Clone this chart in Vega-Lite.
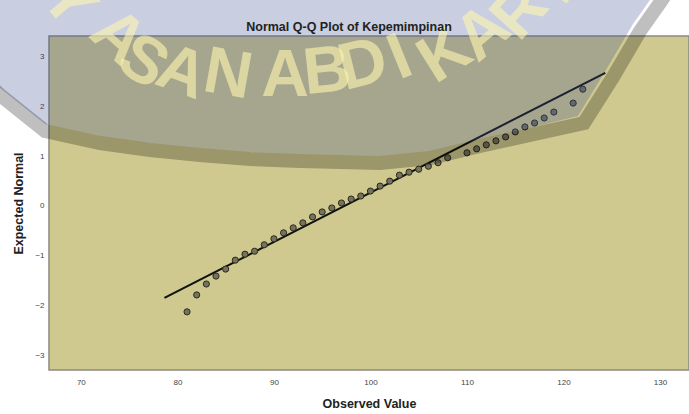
{
  "$schema": "https://vega.github.io/schema/vega-lite/v6.json",
  "autosize": "none",
  "width": 640,
  "height": 334,
  "padding": {"left": 49, "top": 36, "right": 0, "bottom": 44},
  "background": "#ffffff",
  "title": {"text": "Normal Q-Q Plot of Kepemimpinan", "font": "Liberation Sans", "fontSize": 12.5, "fontWeight": "bold", "color": "#222222", "anchor": "middle", "frame": "group", "dx": -20, "offset": -92},
  "config": {
    "view": {"fill": "#d0c98f", "stroke": "#8a8a80", "strokeWidth": 1.5},
    "axis": {"grid": false, "domain": false, "ticks": false, "labelFont": "Liberation Sans", "labelFontSize": 8, "labelColor": "#444444", "titleFont": "Liberation Sans", "titleFontSize": 12.5, "titleFontWeight": "bold", "titleColor": "#222222"}
  },
  "datasets": {
    "pts": [
      {"obs": 81, "exp": -2.13}, {"obs": 82, "exp": -1.79}, {"obs": 83, "exp": -1.57}, {"obs": 84, "exp": -1.41},
      {"obs": 85, "exp": -1.27}, {"obs": 86, "exp": -1.09}, {"obs": 87, "exp": -0.97}, {"obs": 88, "exp": -0.91},
      {"obs": 89, "exp": -0.78}, {"obs": 90, "exp": -0.66}, {"obs": 91, "exp": -0.54}, {"obs": 92, "exp": -0.44},
      {"obs": 93, "exp": -0.34}, {"obs": 94, "exp": -0.22}, {"obs": 95, "exp": -0.12}, {"obs": 96, "exp": -0.04},
      {"obs": 97, "exp": 0.06}, {"obs": 98, "exp": 0.14}, {"obs": 99, "exp": 0.2}, {"obs": 100, "exp": 0.3},
      {"obs": 101, "exp": 0.4}, {"obs": 102, "exp": 0.5}, {"obs": 103, "exp": 0.62}, {"obs": 104, "exp": 0.68},
      {"obs": 105, "exp": 0.74}, {"obs": 106, "exp": 0.8}, {"obs": 107, "exp": 0.87}, {"obs": 108, "exp": 0.97},
      {"obs": 110, "exp": 1.07}, {"obs": 111, "exp": 1.15}, {"obs": 112, "exp": 1.23}, {"obs": 113, "exp": 1.31},
      {"obs": 114, "exp": 1.39}, {"obs": 115, "exp": 1.49}, {"obs": 116, "exp": 1.59}, {"obs": 117, "exp": 1.67},
      {"obs": 118, "exp": 1.77}, {"obs": 119, "exp": 1.89}, {"obs": 121, "exp": 2.07}, {"obs": 122, "exp": 2.35}
    ],
    "line": [
      {"obs": 78.66, "exp": -1.85},
      {"obs": 124.33, "exp": 2.68}
    ],
    "wmArea": [
      {"obs": 59.55, "exp": 2.776}, {"obs": 61.62, "exp": 2.374}, {"obs": 66.29, "exp": 1.649}, {"obs": 71.98, "exp": 1.408},
      {"obs": 77.16, "exp": 1.267}, {"obs": 82.34, "exp": 1.166}, {"obs": 87.52, "exp": 1.086}, {"obs": 92.7, "exp": 1.046},
      {"obs": 100.99, "exp": 1.006}, {"obs": 106.17, "exp": 1.106}, {"obs": 111.35, "exp": 1.348}, {"obs": 116.53, "exp": 1.569},
      {"obs": 121.5, "exp": 1.81}, {"obs": 124.4, "exp": 2.736}, {"obs": 127.2, "exp": 3.661}, {"obs": 128.96, "exp": 4.144}
    ],
    "wmRim": [
      {"obs": 59.55, "exp": 2.635}, {"obs": 61.62, "exp": 2.233}, {"obs": 66.29, "exp": 1.509}, {"obs": 71.98, "exp": 1.267},
      {"obs": 77.16, "exp": 1.126}, {"obs": 82.34, "exp": 1.026}, {"obs": 87.52, "exp": 0.945}, {"obs": 92.7, "exp": 0.905},
      {"obs": 100.99, "exp": 0.865}, {"obs": 106.17, "exp": 0.965}, {"obs": 111.35, "exp": 1.207}, {"obs": 116.53, "exp": 1.428},
      {"obs": 122.12, "exp": 1.669}, {"obs": 125.13, "exp": 2.595}, {"obs": 127.93, "exp": 3.521}, {"obs": 130.2, "exp": 4.144},
      {"obs": 132.07, "exp": 4.748}
    ],
    "wmText": [
      {"ch": "Y", "obs": 68.67, "exp": 4.104, "rot": 50},
      {"ch": "A", "obs": 73.85, "exp": 3.4, "rot": 42},
      {"ch": "S", "obs": 76.44, "exp": 2.897, "rot": 32},
      {"ch": "A", "obs": 80.48, "exp": 2.676, "rot": 20},
      {"ch": "N", "obs": 85.24, "exp": 2.635, "rot": 10},
      {"ch": "A", "obs": 91.15, "exp": 2.615, "rot": 0},
      {"ch": "B", "obs": 95.5, "exp": 2.696, "rot": -6},
      {"ch": "D", "obs": 99.23, "exp": 2.837, "rot": -14},
      {"ch": "I", "obs": 103.06, "exp": 2.977, "rot": -22},
      {"ch": "K", "obs": 107.72, "exp": 3.038, "rot": -32},
      {"ch": "A", "obs": 111.66, "exp": 3.48, "rot": -40},
      {"ch": "R", "obs": 115.49, "exp": 3.903, "rot": -48},
      {"ch": "T", "obs": 118.91, "exp": 4.386, "rot": -55}
    ]
  },
  "layer": [
    {
      "data": {"name": "line"},
      "mark": {"type": "line", "color": "#111111", "strokeWidth": 2},
      "encoding": {
        "x": {"field": "obs", "type": "quantitative", "scale": {"domain": [66.7, 133], "nice": false, "zero": false}, "axis": {"values": [70, 80, 90, 100, 110, 120, 130], "title": "Observed Value", "titlePadding": 11, "labelPadding": 8}},
        "y": {"field": "exp", "type": "quantitative", "scale": {"domain": [-3.3, 3.42], "nice": false, "zero": false}, "axis": {"values": [-3, -2, -1, 0, 1, 2, 3], "title": "Expected Normal", "titlePadding": 9, "labelPadding": 5}}
      }
    },
    {
      "data": {"name": "pts"},
      "mark": {"type": "point", "filled": true, "size": 38, "color": "#76735a", "stroke": "#2a2a22", "strokeWidth": 1, "opacity": 1},
      "encoding": {
        "x": {"field": "obs", "type": "quantitative"},
        "y": {"field": "exp", "type": "quantitative"}
      }
    },
    {
      "data": {"name": "wmArea"},
      "mark": {"type": "area", "color": "#37498f", "opacity": 0.27, "clip": false},
      "encoding": {
        "x": {"field": "obs", "type": "quantitative"},
        "y": {"field": "exp", "type": "quantitative"},
        "y2": {"datum": 4.4}
      }
    },
    {
      "data": {"name": "wmRim"},
      "mark": {"type": "line", "color": "#000000", "opacity": 0.25, "strokeWidth": 14, "strokeCap": "butt", "clip": false},
      "encoding": {
        "x": {"field": "obs", "type": "quantitative"},
        "y": {"field": "exp", "type": "quantitative"}
      }
    },
    {
      "data": {"name": "wmText"},
      "mark": {"type": "text", "font": "Liberation Sans", "fontWeight": "bold", "fontSize": 66, "align": "center", "baseline": "middle", "color": "#fff6b0", "opacity": 0.6, "clip": false},
      "encoding": {
        "x": {"field": "obs", "type": "quantitative"},
        "y": {"field": "exp", "type": "quantitative"},
        "text": {"field": "ch"},
        "angle": {"field": "rot", "type": "quantitative", "scale": null}
      }
    }
  ]
}
